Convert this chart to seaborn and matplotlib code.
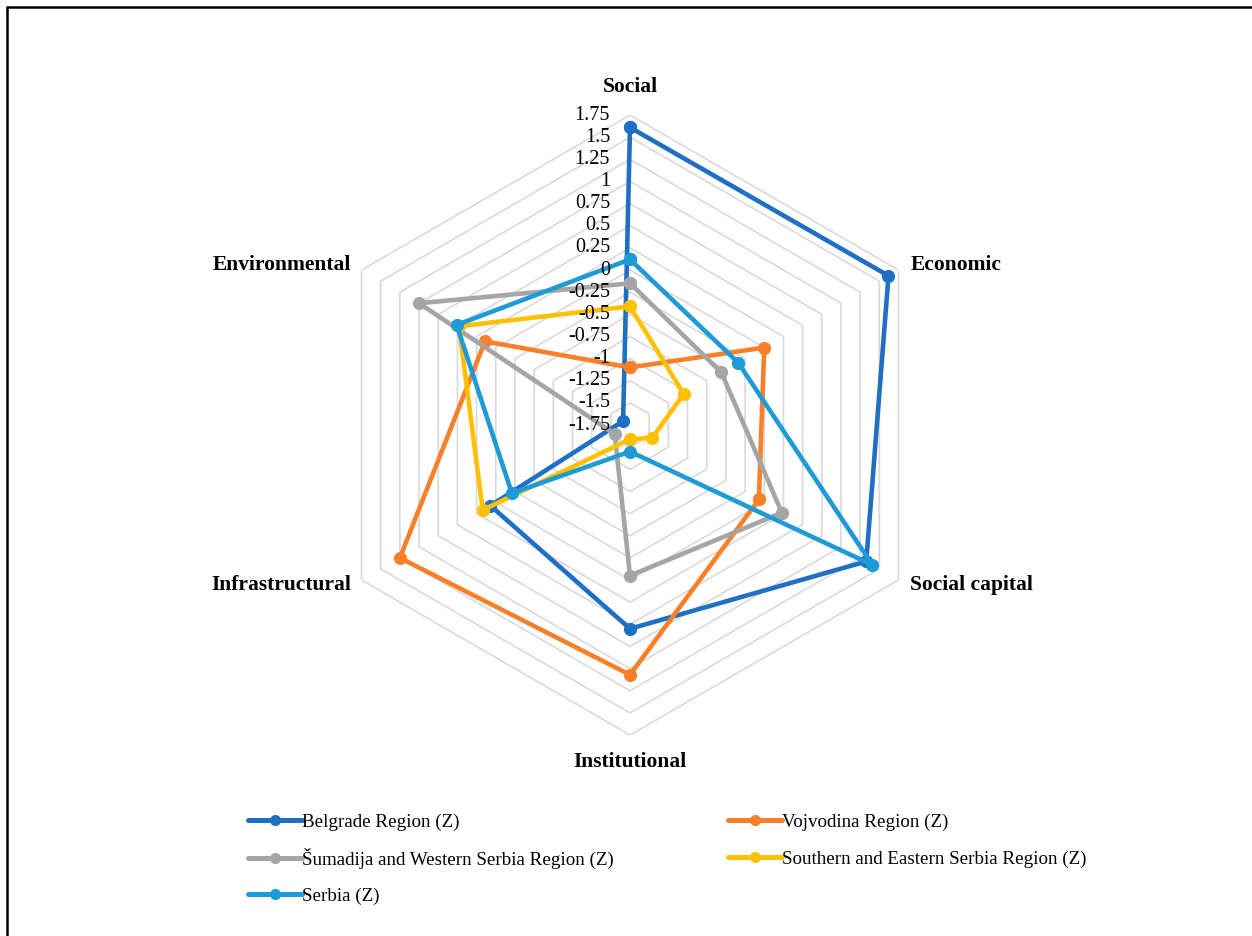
import numpy as np
import pandas as pd
import matplotlib.pyplot as plt
import matplotlib.transforms as mtransforms
from matplotlib.lines import Line2D
import seaborn as sns

# ------------------------
# Data
# ------------------------
axes_labels = ["Social", "Economic", "Social capital", "Institutional",
               "Infrastructural", "Environmental"]
regions = ["Belgrade Region (Z)", "Vojvodina Region (Z)",
           "Šumadija and Western Serbia Region (Z)",
           "Southern and Eastern Serbia Region (Z)", "Serbia (Z)"]

belgrade = [1.61, 1.62, 1.33, 0.55, 0.07, -1.66]
vojvodina = [-1.10, 0.00, -0.07, 1.07, 1.25, 0.14]
sumadija = [-0.15, -0.56, 0.23, -0.05, -1.55, 1.00]
southern = [-0.41, -1.05, -1.46, -1.59, 0.17, 0.48]
serbia = [0.12, -0.34, 1.41, -1.45, -0.21, 0.51]

r_ticks = [-1.75, -1.5, -1.25, -1, -0.75, -0.5, -0.25, 0,
           0.25, 0.5, 0.75, 1, 1.25, 1.5, 1.75]
tick_labels = ["-1.75", "-1.5", "-1.25", "-1", "-0.75", "-0.5", "-0.25", "0",
               "0.25", "0.5", "0.75", "1", "1.25", "1.5", "1.75"]

colors = ["#1F6FC4", "#F98028", "#A5A5A5", "#FFC000", "#1E9BD7"]

# ------------------------
# Long table for seaborn (closing each polygon)
# ------------------------
n = len(axes_labels)
angles = np.linspace(0, 2 * np.pi, n, endpoint=False)
rows = []
for name, vals in zip(regions, [belgrade, vojvodina, sumadija, southern, serbia]):
    closed_a = list(angles) + [2 * np.pi]
    closed_v = list(vals) + [vals[0]]
    for a, v in zip(closed_a, closed_v):
        rows.append({"region": name, "angle": a, "value": v})
df = pd.DataFrame(rows)

# ------------------------
# Figure
# ------------------------
sns.set_style("white")
plt.rcParams["font.family"] = ["Liberation Serif", "DejaVu Serif"]
plt.rcParams["text.color"] = "black"

fig = plt.figure(figsize=(12.52, 9.36), dpi=100)
ax = fig.add_axes([0.2556, 0.2147, 0.4952, 0.6624], projection="polar")
ax.set_theta_zero_location("N")
ax.set_theta_direction(-1)
ax.set_ylim(-1.75, 1.75)
ax.grid(False)
ax.spines["polar"].set_visible(False)
ax.set_xticks([])
ax.set_yticks([])
ax.set_facecolor("none")

# hexagonal grid rings
hex_a = list(angles) + [2 * np.pi]
for r in r_ticks[1:]:
    ax.plot(hex_a, [r] * len(hex_a), color="#D9D9D9", lw=1.2, zorder=1)

sns.lineplot(data=df, x="angle", y="value", hue="region", hue_order=regions,
             palette=colors, sort=False, estimator=None, units="region",
             marker="o", markersize=9.5, markeredgewidth=0, linewidth=3.3,
             legend=False, ax=ax, zorder=3)
ax.set_xlabel("")
ax.set_ylabel("")

# radial tick labels (drawn over the lines)
tick_tr = mtransforms.offset_copy(ax.transData, fig=fig, x=-20, y=0, units="dots")
for r, lab in zip(r_ticks, tick_labels):
    ax.text(0, r, lab, ha="right", va="center", fontsize=14.5,
            color="black", transform=tick_tr, zorder=5)

# category labels
offsets = [(0, 28, "center"), (12, 5, "left"), (12, -5, "left"),
           (0, -27, "center"), (-10, -5, "right"), (-10, 5, "right")]
for a, lab, (dx, dy, ha) in zip(angles, axes_labels, offsets):
    tr = mtransforms.offset_copy(ax.transData, fig=fig, x=dx, y=dy, units="dots")
    ax.text(a, 1.75, lab, ha=ha, va="center", fontsize=15.5,
            fontweight="bold", color="black", transform=tr)

# legend entries, laid out in a 2-column grid like the original
leg_pos = [(248, 822), (728, 822), (248, 858), (728, 859), (248, 896)]
for (px, py), name, c in zip(leg_pos, regions, colors):
    h = Line2D([0], [0], color=c, lw=3.6, marker="o", markersize=8,
               markeredgewidth=0)
    leg = fig.legend([h], [name], loc="center left",
                     bbox_to_anchor=(px / 1252, 1 - py / 936), frameon=False,
                     fontsize=13.7, handlelength=2.85, handletextpad=0.0,
                     borderpad=0, borderaxespad=0)
    for t in leg.get_texts():
        t.set_color("black")

# outer frame (top and left edges visible)
fig.add_artist(Line2D([7 / 1252, 1], [1 - 7 / 936, 1 - 7 / 936],
                      color="black", lw=1.8, transform=fig.transFigure))
fig.add_artist(Line2D([7 / 1252, 7 / 1252], [0, 1 - 7 / 936],
                      color="black", lw=1.8, transform=fig.transFigure))

fig.savefig("out.png", dpi=100)
